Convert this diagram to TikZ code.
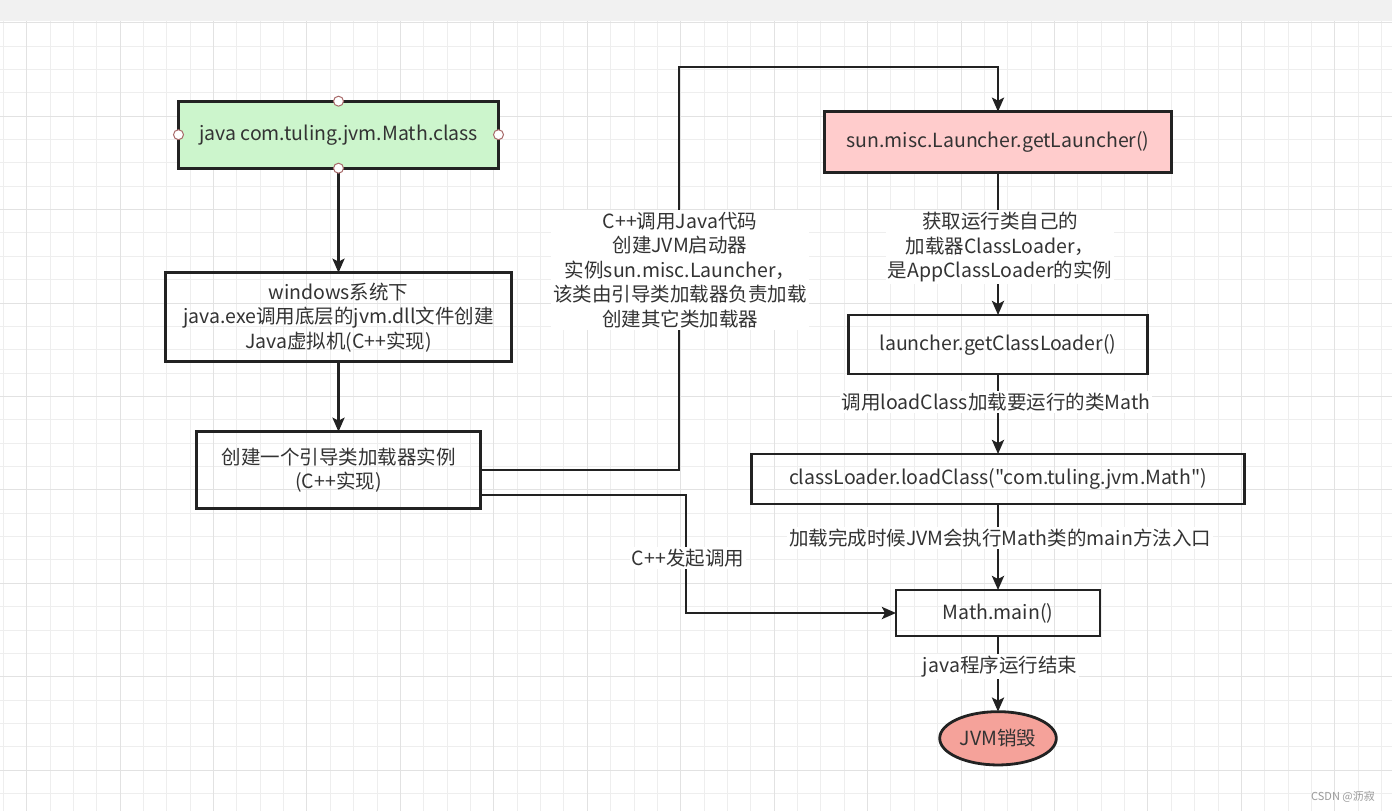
\documentclass[tikz,border=0pt]{standalone}
\usepackage{fontspec}
\setmainfont{Noto Sans CJK SC}[Ligatures=TeXOff]
\usetikzlibrary{arrows.meta,shapes.geometric}
\definecolor{txt}{HTML}{333333}
\definecolor{ln}{HTML}{222222}
\definecolor{gridminor}{HTML}{EEEEEE}
\definecolor{gridmajor}{HTML}{E2E2E2}
\definecolor{topbar}{HTML}{F1F1F1}
\definecolor{greenfill}{HTML}{CCF5CC}
\definecolor{pinkfill}{HTML}{FFCCCC}
\definecolor{salmon}{HTML}{F5A29A}
\definecolor{cptcol}{HTML}{A86A6A}
\definecolor{wm}{HTML}{9A9A9A}
\tikzset{
  boxnode/.style={draw=ln, line width=2.8pt, rectangle, align=center, text=txt,
    inner sep=0pt, outer sep=0pt, font=\fontsize{19.5}{24.5}\selectfont},
  lbl/.style={fill=white, text=txt, align=center, inner sep=2pt,
    font=\fontsize{19.5}{24.5}\selectfont},
  arr/.style={draw=ln, line width=2.8pt, -{Stealth[length=14pt,width=12pt,inset=3pt]}},
  cpt/.style={circle, draw=cptcol, fill=white, line width=1pt, minimum size=10pt, inner sep=0pt},
}
\begin{document}
\begin{tikzpicture}[x=1pt,y=-1pt]
\useasboundingbox (0,0) rectangle (1392,811);
\fill[white] (0,0) rectangle (1392,811);
% grid
\foreach \i in {0,...,59} \draw[gridminor, line width=1pt] ({3.3+23.36*\i},21) -- ({3.3+23.36*\i},811);
\foreach \j in {0,...,33} \draw[gridminor, line width=1pt] (0,{22.7+23.36*\j}) -- (1392,{22.7+23.36*\j});
\foreach \i in {1,5,...,57} \draw[gridmajor, line width=1pt] ({3.3+23.36*\i},21) -- ({3.3+23.36*\i},811);
\foreach \j in {0,4,...,32} \draw[gridmajor, line width=1pt] (0,{22.7+23.36*\j}) -- (1392,{22.7+23.36*\j});
\fill[topbar] (0,0) rectangle (1392,21);

% nodes left column
\node[boxnode, fill=greenfill, minimum width=320pt, minimum height=67pt] (green) at (338.5,134.7) {java com.tuling.jvm.Math.class};
\node[boxnode, minimum width=346.7pt, minimum height=89pt] (win) at (338.5,317.2) {windows系统下\\java.exe调用底层的jvm.dll文件创建\\Java虚拟机(C++实现)};
\node[boxnode, minimum width=283.3pt, minimum height=76.6pt] (boot) at (338.5,470) {创建一个引导类加载器实例\\(C++实现)};

% nodes right column
\node[boxnode, fill=pinkfill, minimum width=347.7pt, minimum height=61pt] (pink) at (998,142.2) {sun.misc.Launcher.getLauncher()};
\node[boxnode, minimum width=299.3pt, minimum height=59pt] (gcl) at (998,344.5) {launcher.getClassLoader()};
\node[boxnode, minimum width=493.4pt, minimum height=50pt] (lc) at (998,479) {classLoader.loadClass("com.tuling.jvm.Math")};
\node[boxnode, minimum width=204pt, minimum height=46pt] (mm) at (998,613) {Math.main()};
\node[ellipse, draw=ln, line width=2.8pt, fill=salmon, text=txt, minimum width=116.6pt, minimum height=53.3pt, inner sep=0pt, outer sep=0pt, font=\fontsize{19.5}{24.5}\selectfont] (end) at (998,738.3) {JVM销毁};

% connectors
\coordinate (c1) at (679,67);
\coordinate (c2) at (686,613);
\draw[arr] (green) -- (win);
\draw[arr] (win) -- (boot);
\draw[arr] (boot.east) -| (c1) -| (pink.north);
\draw[arr] ([yshift=-25pt]boot.east) -| (c2) |- (mm.west);
\draw[arr] (pink) -- (gcl);
\draw[arr] (gcl) -- (lc);
\draw[arr] (lc) -- (mm);
\draw[arr] (mm) -- (end);

% labels
\node[lbl] (la) at (680,270) {C++调用Java代码\\创建JVM启动器\\实例sun.misc.Launcher，\\该类由引导类加载器负责加载\\创建其它类加载器};
\node[lbl] (lb) at (1000,247) {获取运行类自己的\\加载器ClassLoader，\\是AppClassLoader的实例};
\node[lbl] (lcl) at (996,401.7) {调用loadClass加载要运行的类Math};
\node[lbl] (ld) at (1000,538.3) {加载完成时候JVM会执行Math类的main方法入口};
\node[lbl] (le) at (688,558) {C++发起调用};
\node[lbl] (lf) at (1000,666.7) {java程序运行结束};

% connection points on selected shape
\node[cpt] (p1) at (green.north) {};
\node[cpt] (p2) at (green.south) {};
\node[cpt] (p3) at (green.west) {};
\node[cpt] (p4) at (green.east) {};

% watermark
\node[text=wm, font=\fontsize{11}{13}\selectfont, inner sep=0pt] (wmk) at (1343,796.5) {CSDN @沥寂};
\end{tikzpicture}
\end{document}
